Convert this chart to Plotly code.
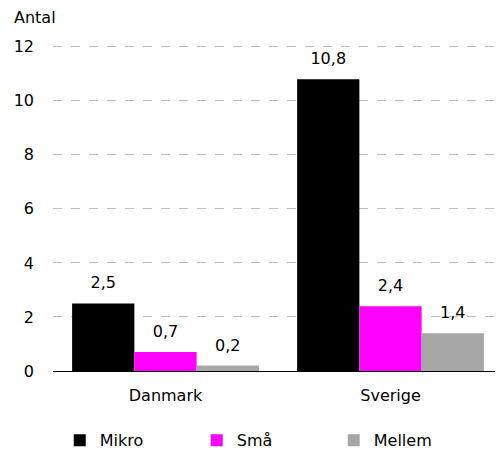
import plotly.graph_objects as go

# Data
countries = ["Danmark", "Sverige"]
series_names = ["Mikro", "Små", "Mellem"]
mikro = [2.5, 10.8]
smaa = [0.7, 2.4]
mellem = [0.2, 1.4]
y_ticks = [0, 2, 4, 6, 8, 10, 12]

colors = ["#000000", "#FF00FF", "#A6A6A6"]
values = [mikro, smaa, mellem]

fig = go.Figure()

for i, (name, vals, col) in enumerate(zip(series_names, values, colors)):
    fig.add_trace(
        go.Bar(
            x=countries,
            y=vals,
            name=name,
            offsetgroup=str(i),
            marker=dict(color=col, line=dict(width=0)),
        )
    )

# value labels: invisible markers push the text a bit above the bar top
for i, vals in enumerate(values):
    fig.add_trace(
        go.Scatter(
            x=countries,
            y=vals,
            mode="markers+text",
            offsetgroup=str(i),
            marker=dict(size=16, color="rgba(0,0,0,0)"),
            text=[f"{v:.1f}".replace(".", ",") for v in vals],
            textposition="top center",
            textfont=dict(color="#000000", size=16),
            showlegend=False,
            hoverinfo="skip",
            cliponaxis=False,
        )
    )

# page body has an 8px margin, so the figure is a bit smaller than the window
fig.update_layout(
    width=495,
    height=442,
    margin=dict(l=45, r=0, t=36, b=79, autoexpand=False),
    paper_bgcolor="#FFFFFF",
    plot_bgcolor="#FFFFFF",
    font=dict(family="DejaVu Sans", size=16, color="#000000"),
    barmode="group",
    scattermode="group",
    bargap=0.17,
    bargroupgap=0,
    separators=",.",
    showlegend=True,
    legend=dict(
        orientation="h",
        x=0.015,
        xanchor="left",
        y=-0.16,
        yanchor="top",
        entrywidth=92,
        font=dict(size=16),
        itemsizing="constant",
        tracegroupgap=0,
    ),
    xaxis=dict(
        showline=True,
        linecolor="#000000",
        linewidth=1,
        ticks="",
        showgrid=False,
        ticklabelstandoff=10,
    ),
    yaxis=dict(
        range=[0, 12.1],
        tickvals=y_ticks,
        showgrid=True,
        gridcolor="#BFBFBF",
        griddash="dash",
        gridwidth=1,
        zeroline=False,
        showline=False,
        ticks="",
        ticklabelstandoff=18,
    ),
    annotations=[
        dict(
            text="Antal",
            xref="paper",
            yref="paper",
            x=-0.091,
            y=1.0,
            yshift=38,
            xanchor="left",
            yanchor="top",
            showarrow=False,
            font=dict(size=16),
        )
    ],
)

fig.write_html("out.html")
